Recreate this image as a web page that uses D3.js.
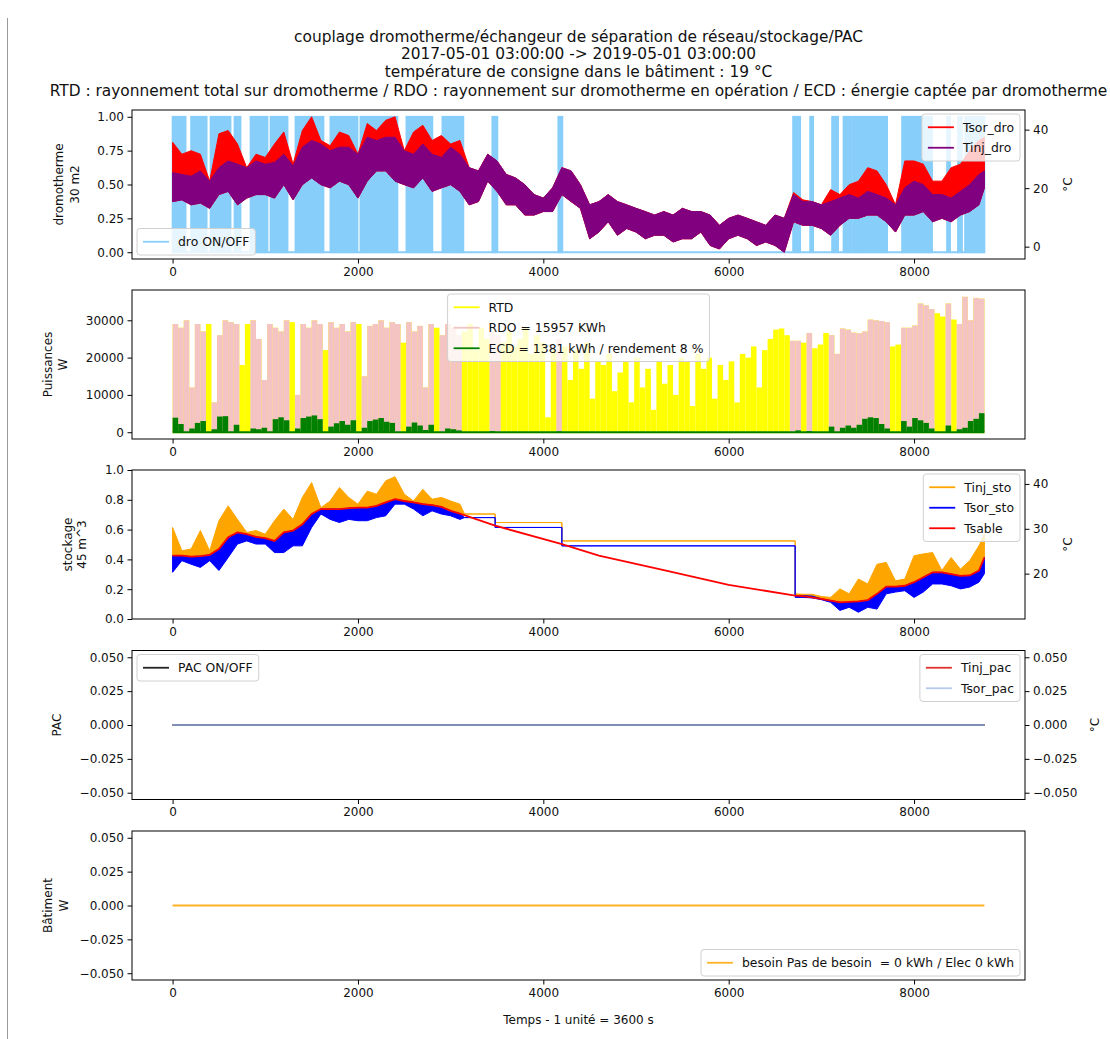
<!DOCTYPE html>
<html>
<head>
<meta charset="utf-8">
<script src="https://cdn.jsdelivr.net/npm/d3@7"></script>
<style>
  body { margin: 0; background: #fff; }
  text { font-family: "DejaVu Sans", sans-serif; fill: #111; }
</style>
</head>
<body>
<svg id="fig" width="1110" height="1039"></svg>
<script>
// === Données ===
const titres = [
  "couplage dromotherme/échangeur de séparation de réseau/stockage/PAC",
  "2017-05-01 03:00:00 -> 2019-05-01 03:00:00",
  "température de consigne dans le bâtiment : 19 °C",
  "RTD : rayonnement total sur dromotherme / RDO : rayonnement sur dromotherme en opération / ECD : énergie captée par dromotherme"
];
const nbHeures = 8759;
const ticksX = [0, 2000, 4000, 6000, 8000];

// dromotherme : échantillons toutes les 100 h (enveloppes haute / basse)
const heuresDro = d3.range(0, 8900, 100).map(h => Math.min(h, nbHeures));
const tinjDroHaut = [25.3, 24.7, 24.1, 25.9, 22.4, 27.0, 29.3, 28.2, 27.0, 29.3,
  28.2, 28.8, 31.6, 27.6, 34.0, 36.3, 35.1, 32.8, 34.0, 34.0,
  31.6, 37.4, 36.3, 37.4, 37.4, 32.8, 31.6, 35.1, 31.6, 30.5,
  34.0, 31.6, 27.0, 25.9, 31.6, 29.3, 24.7, 23.5, 21.2, 17.8,
  16.6, 20.1, 27.0, 25.9, 21.2, 14.3, 15.4, 17.8, 15.4, 14.3,
  13.1, 12.0, 10.8, 12.0, 10.8, 13.1, 12.0, 12.0, 10.8, 7.3,
  9.7, 10.8, 9.7, 8.5, 7.3, 10.8, 9.7, 17.8, 15.4, 15.4,
  14.3, 15.4, 16.6, 17.8, 16.6, 18.9, 17.8, 16.6, 14.3, 20.1,
  22.4, 21.2, 17.8, 17.8, 16.6, 18.9, 21.2, 24.7, 25.9];
const tinjDroBas = [15.4, 16.0, 14.3, 14.9, 13.1, 17.8, 18.9, 14.3, 16.6, 17.8,
  17.8, 16.6, 21.2, 16.0, 21.2, 23.5, 21.2, 20.1, 22.4, 21.2,
  16.6, 22.4, 25.9, 25.9, 22.4, 21.2, 20.1, 23.5, 18.9, 20.1,
  21.2, 18.9, 14.3, 15.4, 22.4, 18.9, 14.3, 14.3, 10.8, 10.8,
  12.0, 12.0, 17.8, 15.4, 13.1, 2.7, 5.0, 8.5, 3.9, 6.2,
  5.0, 2.7, 3.9, 3.9, 1.6, 2.7, 2.7, 5.0, 0.4, -0.8,
  2.7, 3.9, 2.7, 0.4, 1.6, 0.4, -1.9, 8.5, 7.3, 7.3,
  6.2, 3.9, 7.3, 9.7, 9.7, 10.8, 10.8, 8.5, 5.0, 10.8,
  10.8, 12.0, 8.5, 9.7, 8.5, 10.8, 12.0, 14.3, 20.1];
const tsorDroHaut = [35.7, 31.6, 32.8, 31.6, 22.4, 38.6, 39.7, 35.1, 27.0, 31.6,
  30.5, 35.1, 39.2, 28.2, 39.7, 44.4, 36.3, 34.5, 39.2, 38.0,
  31.6, 42.1, 39.7, 43.2, 44.4, 32.8, 39.2, 41.5, 36.3, 38.0,
  35.1, 36.3, 27.0, 25.9, 31.6, 29.3, 24.7, 23.5, 21.2, 17.8,
  16.6, 20.1, 27.0, 25.9, 21.2, 14.3, 15.4, 17.8, 15.4, 14.3,
  13.1, 12.0, 10.8, 12.0, 10.8, 13.1, 12.0, 12.0, 10.8, 7.3,
  9.7, 10.8, 9.7, 8.5, 7.3, 10.8, 9.7, 18.5, 16.0, 15.4,
  14.3, 19.5, 17.8, 21.2, 22.4, 27.0, 25.9, 21.2, 14.3, 29.3,
  29.3, 28.2, 22.4, 22.4, 27.0, 28.2, 32.8, 36.3, 37.4];
// périodes de marche du dromotherme [début, fin] en heures
const droMarche = [[0, 140], [200, 367], [410, 625], [668, 733], [841, 1024], [1057, 1240],
  [1326, 1628], [1703, 1995], [2027, 2426], [2523, 2803], [2911, 3137], [3450, 3504],
  [4162, 4205], [6695, 6771], [6879, 6911], [7116, 7180], [7239, 7330], [7345, 7420],
  [7435, 7709], [7871, 8194], [8356, 8388], [8474, 8517], [8550, 8759]];

// puissances : crêtes par tranche de 60 h (W)
const pasPuiss = 60;
const rtd = [29000, 28000, 30000, 12000, 29000, 27000, 29000, 8000, 26000, 30000,
  29500, 29000, 18000, 29000, 30000, 25000, 14000, 29000, 28000, 27000,
  30000, 29500, 10000, 29000, 28000, 30000, 29000, 22000, 29500, 28000,
  29000, 27000, 29500, 29000, 15000, 28500, 29000, 30000, 28000, 29500,
  29000, 24000, 29500, 27000, 28500, 12000, 29000, 28000, 26000, 29000,
  28000, 26000, 27000, 29000, 22000, 28000, 25000, 27000, 26000, 24000,
  27000, 23000, 25000, 28000, 21000, 26000, 24000, 4000, 22000, 25000,
  23000, 14000, 22000, 17000, 24000, 9000, 19000, 18000, 21000, 11000,
  16000, 19000, 8000, 20000, 12000, 17000, 6000, 19000, 13000, 18000,
  10000, 20000, 19000, 7000, 21000, 17000, 20000, 9000, 18000, 14000,
  19000, 8000, 21000, 20000, 23000, 12000, 22000, 25000, 27500, 27800,
  26000, 24500, 24500, 24000, 26600, 22500, 23500, 26600, 26000, 21000,
  27800, 27500, 26700, 26500, 27000, 30200, 30000, 29800, 29500, 23000,
  23500, 28000, 28000, 28600, 34500, 34000, 33000, 31900, 31000, 34500,
  30200, 29000, 36300, 30000, 36000, 35800];
const ecd = [3900, 2200, 0, 1000, 2500, 3000, 0, 800, 4200, 4300,
  0, 2000, 0, 0, 1000, 800, 1200, 0, 3500, 4000,
  3200, 0, 1000, 3800, 4200, 4500, 3500, 0, 1500, 2400,
  3000, 2000, 3200, 0, 1200, 3000, 3400, 3800, 2800, 2500,
  0, 0, 1500, 2600, 1800, 600, 2000, 0, 0, 1000,
  800, 500, 0, 0, 0, 0, 0, 300, 0, 0,
  0, 0, 0, 0, 0, 0, 0, 0, 0, 200,
  0, 0, 0, 0, 0, 0, 0, 0, 0, 0,
  0, 0, 0, 0, 0, 0, 0, 0, 0, 0,
  0, 0, 0, 0, 0, 0, 0, 0, 0, 0,
  0, 0, 0, 0, 0, 0, 0, 0, 0, 0,
  0, 0, 500, 0, 300, 0, 0, 0, 1500, 0,
  1200, 1800, 1200, 2000, 3600, 4000, 3800, 2200, 1000, 0,
  0, 3000, 1500, 3800, 3200, 2500, 1000, 0, 0, 1800,
  0, 800, 1200, 3000, 3600, 5100];

// stockage (°C)
const tempsSto = [0, 100, 200, 300, 400, 500, 600, 700, 800, 900, 1000, 1100, 1200, 1300, 1400, 1500,
  1600, 1700, 1800, 1900, 2000, 2100, 2200, 2300, 2400, 2500, 2600, 2700, 2800, 2900, 3000, 3100,
  3150, 3480, 3480, 4200, 4200, 6717, 6717,
  6800, 6900, 7000, 7100, 7200, 7300, 7400, 7500, 7600, 7700, 7800, 7900, 8000, 8100, 8200, 8300,
  8400, 8500, 8600, 8700, 8759];
const tinjStoHaut = [30.3, 25.1, 25.5, 29.6, 25.1, 31.8, 35.1, 32.1, 29.2, 29.6, 28.8, 31.8, 34.4, 32.1, 37.0, 40.3,
  34.7, 36.2, 39.2, 37.0, 35.5, 38.4, 37.7, 40.7, 41.6, 37.7, 36.2, 38.8, 36.6, 37.0, 36.2, 35.5,
  33.3, 33.3, 31.4, 31.4, 27.3, 27.3, 15.5,
  15.4, 15.4, 14.9, 14.7, 16.6, 15.5, 18.8, 17.7, 22.1, 22.5, 18.4, 18.8, 24.0, 24.4, 24.7, 20.7,
  23.6, 21.0, 22.9, 26.2, 28.8];
const tinjStoBas = [24.0, 24.0, 23.8, 23.9, 24.2, 25.5, 28.1, 29.2, 28.8, 28.2, 27.9, 27.3, 29.2, 29.6, 31.0, 33.3,
  34.4, 34.4, 34.4, 34.6, 34.7, 34.7, 35.1, 35.9, 36.6, 36.2, 35.9, 35.5, 35.3, 34.9, 34.0, 33.4,
  33.3, 33.3, 31.4, 31.4, 27.3, 27.3, 15.3,
  15.1, 15.0, 14.4, 14.0, 13.6, 13.6, 13.8, 14.1, 15.5, 17.1, 17.1, 17.3, 18.1, 19.2, 20.3, 20.3,
  19.9, 19.5, 19.6, 20.7, 23.6];
const tsorStoBas = [20.3, 22.9, 22.1, 21.4, 22.9, 20.7, 23.6, 26.6, 27.3, 26.6, 26.6, 24.7, 24.7, 26.2, 26.2, 30.3,
  33.3, 32.1, 31.4, 32.1, 31.8, 31.8, 32.5, 32.9, 35.5, 35.5, 34.4, 32.9, 34.0, 33.3, 32.9, 32.1,
  32.5, 32.5, 30.3, 30.3, 26.2, 26.2, 14.7,
  14.7, 14.6, 14.2, 13.6, 11.8, 12.5, 11.4, 12.5, 12.1, 15.5, 15.9, 16.2, 14.7, 15.9, 17.7, 17.7,
  17.3, 16.6, 17.0, 18.1, 20.0];
const tsorStoHaut = [24.0, 24.0, 23.8, 23.9, 24.2, 25.5, 28.1, 29.2, 28.8, 28.2, 27.9, 27.3, 29.2, 29.6, 31.0, 33.3,
  34.4, 34.4, 34.4, 34.6, 34.7, 34.7, 35.1, 35.9, 36.6, 36.2, 35.9, 35.5, 35.3, 34.9, 34.0, 33.4,
  32.5, 32.5, 30.3, 30.3, 26.2, 26.2, 15.1,
  15.1, 15.0, 14.4, 14.0, 13.6, 13.6, 13.8, 14.1, 15.5, 17.1, 17.1, 17.3, 18.1, 19.2, 20.3, 20.3,
  19.9, 19.5, 19.6, 20.7, 23.6];
const tempsSable = [0, 100, 200, 300, 400, 500, 600, 700, 800, 900, 1000, 1100, 1200, 1300, 1400, 1500,
  1600, 1700, 1800, 1900, 2000, 2100, 2200, 2300, 2400, 2500, 2600, 2700, 2800, 2900, 3000, 3100,
  3480, 4200, 4600, 5300, 6000, 6717, 6800, 7000, 7200, 7400, 7500, 7600, 7700, 7800, 7900, 8000,
  8100, 8200, 8300, 8400, 8500, 8600, 8700, 8759];
const tsable = [24.0, 24.0, 23.8, 23.9, 24.2, 25.5, 28.1, 29.2, 28.8, 28.2, 27.9, 27.3, 29.2, 29.6, 31.0, 33.3,
  34.4, 34.4, 34.4, 34.6, 34.7, 34.7, 35.1, 35.9, 36.6, 36.2, 35.9, 35.5, 35.3, 34.9, 34.0, 33.4,
  30.7, 26.6, 24.0, 20.8, 17.5, 15.1, 15.0, 14.4, 13.6, 13.8, 14.1, 15.5, 17.1, 17.1, 17.3, 18.1,
  19.2, 20.3, 20.3, 19.9, 19.5, 19.6, 20.7, 23.6];

// PAC et bâtiment : valeurs nulles sur toute la période
const tempsNul = [0, nbHeures];
const pacMarche = [0, 0], tinjPac = [0, 0], tsorPac = [0, 0], besoin = [0, 0];

const legRDO = "RDO = 15957 KWh";
const legECD = "ECD = 1381 kWh / rendement 8 %";
const legBesoin = "besoin Pas de besoin  = 0 kWh / Elec 0 kWh";

// === Mise en page ===
const svg = d3.select("#fig");
const L = 132, R = 1025, H = 149;
const hauts = [110, 290, 470, 650.5, 831];
const x = d3.scaleLinear().domain([-0.05 * nbHeures, 1.05 * nbHeures]).range([L, R]);
const marge = (lo, hi) => [lo - 0.05 * (hi - lo), hi + 0.05 * (hi - lo)];

// contour de la figure
svg.append("line").attr("x1", 7.5).attr("x2", 7.5).attr("y1", 18).attr("y2", 1039)
  .attr("stroke", "#9a9a9a");

titres.forEach((t, i) => {
  svg.append("text").attr("x", (L + R) / 2).attr("y", [42, 59, 77, 96][i])
    .attr("text-anchor", "middle").style("font-size", "15.4px").text(t);
});

function panneau(k) {
  const top = hauts[k];
  const g = svg.append("g");
  g.append("clipPath").attr("id", "clip" + k).append("rect")
    .attr("x", L).attr("y", top).attr("width", R - L).attr("height", H);
  const data = g.append("g").attr("clip-path", `url(#clip${k})`);
  return { g, data, top, bot: top + H };
}

function styleAxe(a) {
  a.select(".domain").remove();
  a.selectAll("line").attr("stroke", "#000").attr("stroke-width", 1);
  a.selectAll("text").style("font-size", "12px").attr("fill", "#111");
}

function axeX(p) {
  const a = p.g.append("g").attr("transform", `translate(0,${p.bot})`)
    .call(d3.axisBottom(x).tickValues(ticksX).tickFormat(d3.format("d")).tickSize(4.5).tickPadding(3.5));
  styleAxe(a);
}

function axeY(p, y, cote, ticks, fmt) {
  const ax = cote === "left" ? d3.axisLeft(y) : d3.axisRight(y);
  const a = p.g.append("g").attr("transform", `translate(${cote === "left" ? L : R},0)`)
    .call(ax.tickValues(ticks).tickFormat(fmt).tickSize(4.5).tickPadding(3.5));
  styleAxe(a);
}

function cadre(p) {
  p.g.append("rect").attr("x", L).attr("y", p.top).attr("width", R - L).attr("height", H)
    .attr("fill", "none").attr("stroke", "#000").attr("stroke-width", 1);
}

function titreY(p, lignes) {
  lignes.forEach(([t, cx]) => {
    p.g.append("text")
      .attr("transform", `translate(${cx},${p.top + H / 2}) rotate(-90)`)
      .attr("text-anchor", "middle").attr("dominant-baseline", "central")
      .style("font-size", "12px").text(t);
  });
}

function legende(p, loc, items) {
  const g = p.g.append("g");
  const box = g.append("rect").attr("rx", 3).attr("fill", "#fff").attr("fill-opacity", 0.8)
    .attr("stroke", "#d0d0d0").attr("stroke-width", 1);
  let tw = 0;
  items.forEach((it, i) => {
    const cy = 13.25 + i * 20.5;
    g.append("line").attr("x1", 6).attr("x2", 32).attr("y1", cy).attr("y2", cy)
      .attr("stroke", it.couleur).attr("stroke-width", 1.8)
      .attr("stroke-opacity", it.opacite || 1);
    const t = g.append("text").attr("x", 41).attr("y", cy).attr("dy", "0.35em")
      .style("font-size", "12.4px").style("white-space", "pre").text(it.nom);
    tw = Math.max(tw, t.node().getComputedTextLength());
  });
  const bw = tw + 47, bh = items.length * 20.5 + 6;
  box.attr("width", bw).attr("height", bh);
  const gx = loc.includes("right") ? R - 5 - bw : loc.includes("center") ? (L + R - bw) / 2 : L + 5;
  const gy = loc.includes("upper") ? p.top + 4 : p.bot - 4 - bh;
  g.attr("transform", `translate(${gx},${gy})`);
}

function ligne(p, xs, ys, y, couleur, opacite) {
  p.data.append("path").datum(xs.map((t, i) => [t, ys[i]]))
    .attr("d", d3.line().x(d => x(d[0])).y(d => y(d[1])))
    .attr("fill", "none").attr("stroke", couleur).attr("stroke-width", 1.8)
    .attr("stroke-opacity", opacite || 1);
}

function bande(p, xs, bas, haut, y, couleur) {
  p.data.append("path").datum(xs.map((t, i) => [t, bas[i], haut[i]]))
    .attr("d", d3.area().x(d => x(d[0])).y0(d => y(d[1])).y1(d => y(d[2])))
    .attr("fill", couleur).attr("stroke", couleur).attr("stroke-width", 1)
    .attr("stroke-linejoin", "round");
}

const fmt2 = d3.format(".2f"), fmt1 = d3.format(".1f"), fmt3 = d3.format(".3f");

// === 1. dromotherme ===
const p1 = panneau(0);
const y1 = d3.scaleLinear().domain([-0.05, 1.05]).range([p1.bot, p1.top]);
const y1b = d3.scaleLinear()
  .domain(marge(d3.min(tinjDroBas), d3.max(tsorDroHaut))).range([p1.bot, p1.top]);
p1.data.selectAll("rect.on").data(droMarche).join("rect").attr("class", "on")
  .attr("x", d => x(d[0])).attr("width", d => x(d[1]) - x(d[0]))
  .attr("y", y1(1)).attr("height", y1(0) - y1(1))
  .attr("fill", "#87cefa").attr("stroke", "#87cefa").attr("stroke-width", 1.8);
ligne(p1, tempsNul, [0, 0], y1, "#87cefa");
bande(p1, heuresDro, tinjDroBas, tsorDroHaut, y1b, "#ff0000");
bande(p1, heuresDro, tinjDroBas, tinjDroHaut, y1b, "#800080");
cadre(p1); axeX(p1);
axeY(p1, y1, "left", [0, 0.25, 0.5, 0.75, 1], fmt2);
axeY(p1, y1b, "right", [0, 20, 40], d3.format("d"));
titreY(p1, [["dromotherme", 59], ["30 m2", 75]]);
titreY(p1, [["°C", 1068]]);
legende(p1, "lower left", [{ nom: "dro ON/OFF", couleur: "#87cefa" }]);
legende(p1, "upper right", [{ nom: "Tsor_dro", couleur: "#ff0000" }, { nom: "Tinj_dro", couleur: "#800080" }]);

// === 2. puissances ===
const p2 = panneau(1);
const y2 = d3.scaleLinear().domain(marge(0, d3.max(rtd))).range([p2.bot, p2.top]);
const enMarche = (a, b) => droMarche.some(([d, f]) => Math.min(b, f) - Math.max(a, d) >= 20);
const rdo = rtd.map((v, i) => enMarche(i * pasPuiss, (i + 1) * pasPuiss) ? v : 0);
function barres(vals, couleur) {
  p2.data.append("g").selectAll("rect").data(vals).join("rect")
    .attr("x", (d, i) => x(i * pasPuiss)).attr("width", x(pasPuiss) - x(0))
    .attr("y", d => y2(d)).attr("height", d => y2(0) - y2(d))
    .attr("fill", couleur);
}
barres(rtd, "#ffff00");
ligne(p2, tempsNul, [0, 0], y2, "#ffff00");
barres(rdo, "#f4c4c4");
barres(ecd, "#008000");
ligne(p2, tempsNul, [0, 0], y2, "#008000");
cadre(p2); axeX(p2);
axeY(p2, y2, "left", [0, 10000, 20000, 30000], d3.format("d"));
titreY(p2, [["Puissances", 47.5], ["W", 63]]);
legende(p2, "upper center", [{ nom: "RTD", couleur: "#ffff00" },
  { nom: legRDO, couleur: "#f4c4c4" }, { nom: legECD, couleur: "#008000" }]);

// === 3. stockage ===
const p3 = panneau(2);
const y3 = d3.scaleLinear().domain([0, 1]).range([p3.bot, p3.top]);
const y3b = d3.scaleLinear()
  .domain(marge(d3.min(tsorStoBas), d3.max(tinjStoHaut))).range([p3.bot, p3.top]);
bande(p3, tempsSto, tinjStoBas, tinjStoHaut, y3b, "#ffa500");
bande(p3, tempsSto, tsorStoBas, tsorStoHaut, y3b, "#0000ff");
ligne(p3, tempsSable, tsable, y3b, "#ff0000");
cadre(p3); axeX(p3);
axeY(p3, y3, "left", [0, 0.2, 0.4, 0.6, 0.8, 1], fmt1);
axeY(p3, y3b, "right", [20, 30, 40], d3.format("d"));
titreY(p3, [["stockage", 68], ["45 m^3", 82]]);
titreY(p3, [["°C", 1068]]);
legende(p3, "upper right", [{ nom: "Tinj_sto", couleur: "#ffa500" },
  { nom: "Tsor_sto", couleur: "#0000ff" }, { nom: "Tsable", couleur: "#ff0000" }]);

// === 4. PAC ===
const ticksNul = [-0.05, -0.025, 0, 0.025, 0.05];
const p4 = panneau(3);
const y4 = d3.scaleLinear().domain([-0.055, 0.055]).range([p4.bot, p4.top]);
ligne(p4, tempsNul, tinjPac, y4, "#e03030");
ligne(p4, tempsNul, pacMarche, y4, "#222");
ligne(p4, tempsNul, tsorPac, y4, "#9fb5ea", 0.75);
cadre(p4); axeX(p4);
axeY(p4, y4, "left", ticksNul, fmt3);
axeY(p4, y4, "right", ticksNul, fmt3);
titreY(p4, [["PAC", 57]]);
titreY(p4, [["°C", 1095]]);
legende(p4, "upper left", [{ nom: "PAC ON/OFF", couleur: "#222" }]);
legende(p4, "upper right", [{ nom: "Tinj_pac", couleur: "#e03030" },
  { nom: "Tsor_pac", couleur: "#9fb5ea", opacite: 0.75 }]);

// === 5. bâtiment ===
const p5 = panneau(4);
const y5 = d3.scaleLinear().domain([-0.055, 0.055]).range([p5.bot, p5.top]);
ligne(p5, tempsNul, besoin, y5, "#ffa500", 0.85);
cadre(p5); axeX(p5);
axeY(p5, y5, "left", ticksNul, fmt3);
titreY(p5, [["Bâtiment", 48], ["W", 64]]);
legende(p5, "lower right", [{ nom: legBesoin, couleur: "#ffa500", opacite: 0.85 }]);
svg.append("text").attr("x", (L + R) / 2).attr("y", 1024).attr("text-anchor", "middle")
  .style("font-size", "12px").text("Temps - 1 unité = 3600 s");
</script>
</body>
</html>
